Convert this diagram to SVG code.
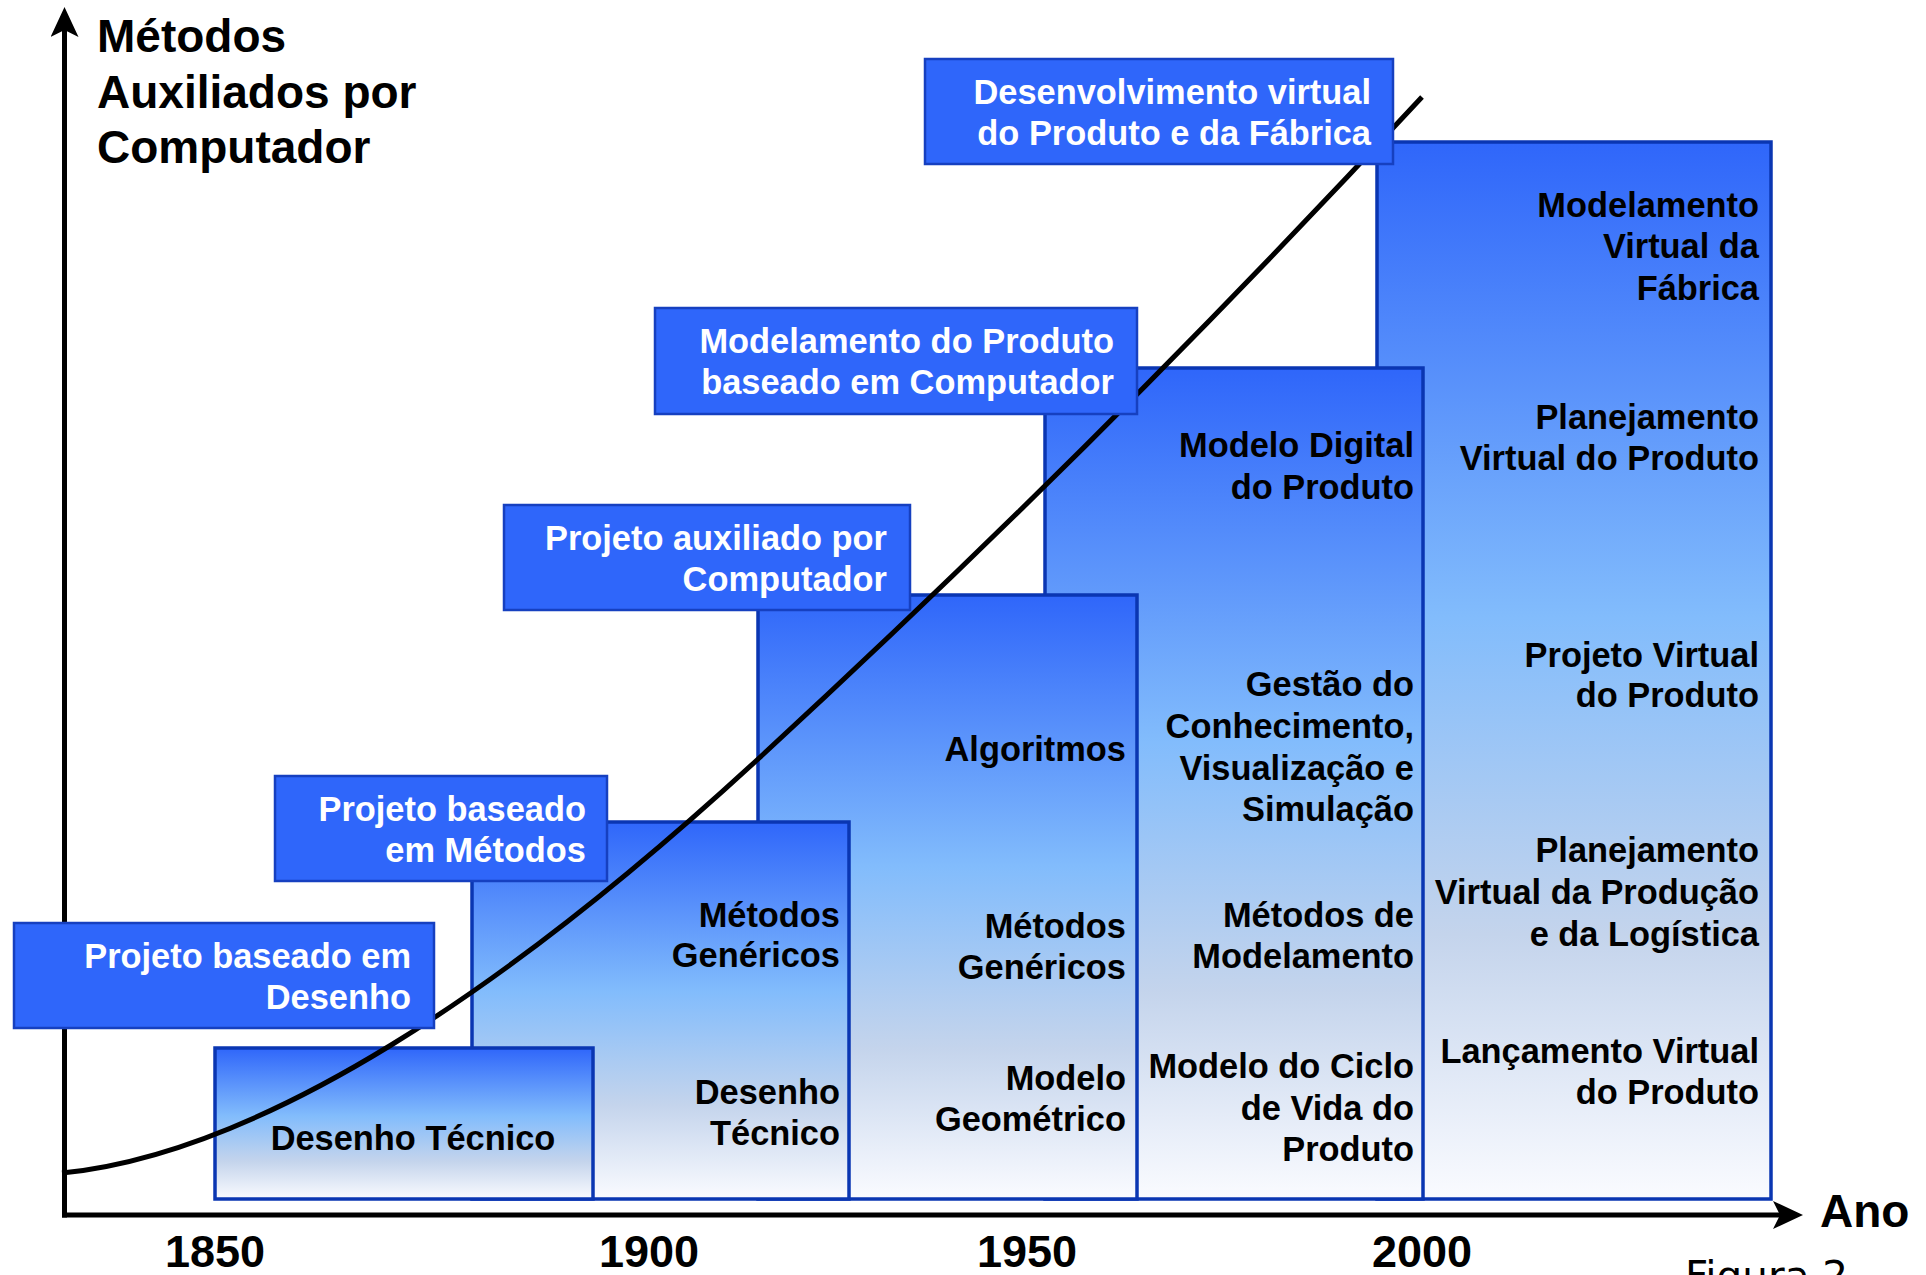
<svg xmlns="http://www.w3.org/2000/svg" width="1926" height="1275" viewBox="0 0 1926 1275">
<defs>
<linearGradient id="colGrad" x1="0" y1="0" x2="0" y2="1">
<stop offset="0" stop-color="#2F66FA"/>
<stop offset="0.45" stop-color="#82BCFC"/>
<stop offset="0.75" stop-color="#C4D4EC"/>
<stop offset="1" stop-color="#FAFBFF"/>
</linearGradient>
<marker id="arr" markerUnits="userSpaceOnUse" markerWidth="30" markerHeight="28" viewBox="0 0 30 28" refX="7" refY="14" orient="auto">
<path d="M0,0 L30,14 L0,28 L7,14 Z" fill="#000"/>
</marker>
<style>
.col{fill:url(#colGrad);stroke:#0A36B2;stroke-width:3.5}
.lab{fill:#2F66FA;stroke:#1640C0;stroke-width:2.5}
.t{font-family:"Liberation Sans",Arial,sans-serif;font-weight:bold;font-size:34.4px;text-anchor:end;fill:#000}
.w{font-family:"Liberation Sans",Arial,sans-serif;font-weight:bold;font-size:34.4px;text-anchor:end;fill:#fff}
.big{font-family:"Liberation Sans",Arial,sans-serif;font-weight:bold;font-size:46px;fill:#000}
.yr{font-family:"Liberation Sans",Arial,sans-serif;font-weight:bold;font-size:45px;fill:#000;text-anchor:middle}
.ax{stroke:#000;stroke-width:5;fill:none}
</style>
</defs>
<rect width="1926" height="1275" fill="#fff"/>

<g id="col-2000">
<rect class="col" x="1377" y="142" width="394" height="1057"/>
<text class="t"><tspan x="1759" y="217">Modelamento</tspan><tspan x="1759" y="258">Virtual da</tspan><tspan x="1759" y="300">Fábrica</tspan></text>
<text class="t"><tspan x="1759" y="429">Planejamento</tspan><tspan x="1759" y="470">Virtual do Produto</tspan></text>
<text class="t"><tspan x="1759" y="667">Projeto Virtual</tspan><tspan x="1759" y="707">do Produto</tspan></text>
<text class="t"><tspan x="1759" y="862">Planejamento</tspan><tspan x="1759" y="904">Virtual da Produção</tspan><tspan x="1759" y="946">e da Logística</tspan></text>
<text class="t"><tspan x="1759" y="1063">Lançamento Virtual</tspan><tspan x="1759" y="1104">do Produto</tspan></text>
</g>

<g id="col-1970">
<rect class="col" x="1045" y="368" width="378" height="831"/>
<text class="t"><tspan x="1414" y="457">Modelo Digital</tspan><tspan x="1414" y="499">do Produto</tspan></text>
<text class="t"><tspan x="1414" y="696">Gestão do</tspan><tspan x="1414" y="738">Conhecimento,</tspan><tspan x="1414" y="780">Visualização e</tspan><tspan x="1414" y="821">Simulação</tspan></text>
<text class="t"><tspan x="1414" y="927">Métodos de</tspan><tspan x="1414" y="968">Modelamento</tspan></text>
<text class="t"><tspan x="1414" y="1078">Modelo do Ciclo</tspan><tspan x="1414" y="1120">de Vida do</tspan><tspan x="1414" y="1161">Produto</tspan></text>
</g>

<g id="col-1950">
<rect class="col" x="758" y="595" width="379" height="604"/>
<text class="t"><tspan x="1126" y="761">Algoritmos</tspan></text>
<text class="t"><tspan x="1126" y="938">Métodos</tspan><tspan x="1126" y="979">Genéricos</tspan></text>
<text class="t"><tspan x="1126" y="1090">Modelo</tspan><tspan x="1126" y="1131">Geométrico</tspan></text>
</g>

<g id="col-1900">
<rect class="col" x="472" y="822" width="377" height="377"/>
<text class="t"><tspan x="840" y="927">Métodos</tspan><tspan x="840" y="967">Genéricos</tspan></text>
<text class="t"><tspan x="840" y="1104">Desenho</tspan><tspan x="840" y="1145">Técnico</tspan></text>
</g>

<g id="col-1850">
<rect class="col" x="215" y="1048" width="378" height="151"/>
<text class="t" x="413" y="1150" style="text-anchor:middle">Desenho Técnico</text>
</g>

<g id="connectors">
<line class="ax" x1="62" y1="1215" x2="1780" y2="1215" marker-end="url(#arr)"/>
<line class="ax" x1="64.5" y1="1217.5" x2="64.5" y2="30" marker-end="url(#arr)"/>
<path class="ax" d="M62,1173 C262,1153 507,990 757,760 C977,557.6 1202,334.6 1422,97"/>
</g>

<g id="axis-labels">
<text class="big"><tspan x="97" y="52">Métodos</tspan><tspan x="97" y="108">Auxiliados por</tspan><tspan x="97" y="163">Computador</tspan></text>
<text class="big" x="1820" y="1227">Ano</text>
<text class="yr" x="215" y="1267">1850</text>
<text class="yr" x="649" y="1267">1900</text>
<text class="yr" x="1027" y="1267">1950</text>
<text class="yr" x="1422" y="1267">2000</text>
<text x="1685" y="1290" style="font-family:'DejaVu Sans',Verdana,sans-serif;font-size:40.5px;fill:#000">Figura 2</text>
</g>

<g id="label-desenho">
<rect class="lab" x="14" y="923" width="420" height="105"/>
<text class="w"><tspan x="411" y="968">Projeto baseado em</tspan><tspan x="411" y="1009">Desenho</tspan></text>
</g>
<g id="label-metodos">
<rect class="lab" x="275" y="776" width="332" height="105"/>
<text class="w"><tspan x="586" y="821">Projeto baseado</tspan><tspan x="586" y="862">em Métodos</tspan></text>
</g>
<g id="label-cad">
<rect class="lab" x="504" y="505" width="406" height="105"/>
<text class="w"><tspan x="887" y="550">Projeto auxiliado por</tspan><tspan x="887" y="591">Computador</tspan></text>
</g>
<g id="label-modelamento">
<rect class="lab" x="655" y="308" width="482" height="106"/>
<text class="w"><tspan x="1114" y="353">Modelamento do Produto</tspan><tspan x="1114" y="394">baseado em Computador</tspan></text>
</g>
<g id="label-virtual">
<rect class="lab" x="925" y="59" width="468" height="105"/>
<text class="w"><tspan x="1371" y="104">Desenvolvimento virtual</tspan><tspan x="1371" y="145">do Produto e da Fábrica</tspan></text>
</g>
</svg>
